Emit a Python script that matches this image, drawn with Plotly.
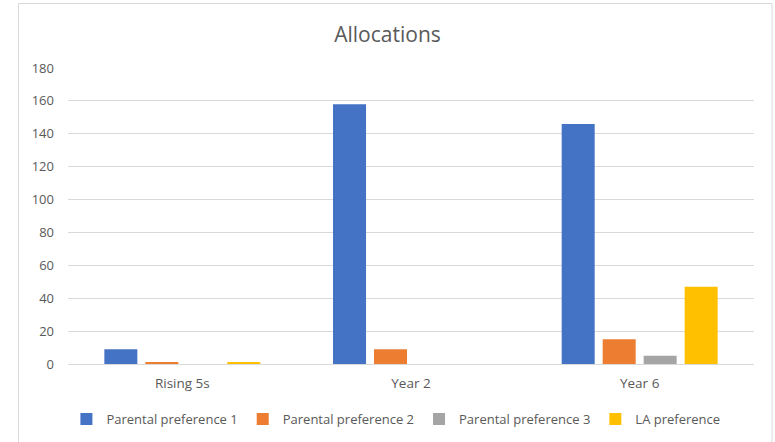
import plotly.graph_objects as go

# Allocation counts by cohort
categories = ["Rising 5s", "Year 2", "Year 6"]
series_names = ["Parental preference 1", "Parental preference 2",
                "Parental preference 3", "LA preference"]
pref1 = [9, 158, 146]
pref2 = [1, 9, 15]
pref3 = [0, 0, 5]
la_pref = [1, 0, 47]
y_ticks = [0, 20, 40, 60, 80, 100, 120, 140, 160, 180]

colors = ["#4472C4", "#ED7D31", "#A5A5A5", "#FFC000"]
values = [pref1, pref2, pref3, la_pref]

fig = go.Figure()
for name, vals, col in zip(series_names, values, colors):
    fig.add_trace(go.Bar(x=categories, y=vals, name=name,
                         marker=dict(color=col, line=dict(width=0))))

W, H = 775, 442
ml, mr, mt, mb = 68, 21, 68, 78
pw, ph = W - ml - mr, H - mt - mb

def px_x(x):
    return (x - ml) / pw

def px_y(y):
    return (H - mb - y) / ph

font_fam = "Open Sans, Liberation Sans, Arial, sans-serif"
grey = "#595959"

fig.update_layout(
    width=W, height=H,
    margin=dict(l=ml, r=mr, t=mt, b=mb, autoexpand=False),
    paper_bgcolor="white", plot_bgcolor="white",
    barmode="group", bargap=0.283, bargroupgap=0.195,
    title=dict(text="Allocations", x=0.5, xanchor="center",
               y=1 - 35 / H, yanchor="middle",
               font=dict(family=font_fam, size=21, color=grey)),
    font=dict(family=font_fam, size=13, color=grey),
    showlegend=True,
    legend=dict(orientation="h", x=0.478, xanchor="center",
                y=px_y(419), yanchor="middle",
                font=dict(size=13, color=grey),
                itemwidth=30, traceorder="normal"),
    xaxis=dict(showgrid=False, showline=True, linecolor="#d9d9d9",
               linewidth=1, ticks="", ticklabelstandoff=7,
               tickfont=dict(size=13.5, color=grey)),
    yaxis=dict(range=[0, 180], tickvals=y_ticks, showgrid=True,
               gridcolor="#d9d9d9", gridwidth=1, zeroline=False,
               showline=False, ticks="", ticklabelstandoff=13,
               tickfont=dict(size=13, color=grey)),
    shapes=[dict(type="rect", xref="paper", yref="paper",
                 x0=px_x(18.5), x1=px_x(772), y0=px_y(446), y1=px_y(3.5),
                 line=dict(color="#d9d9d9", width=1), fillcolor="rgba(0,0,0,0)",
                 layer="below")],
)

fig.write_html("out.html")
